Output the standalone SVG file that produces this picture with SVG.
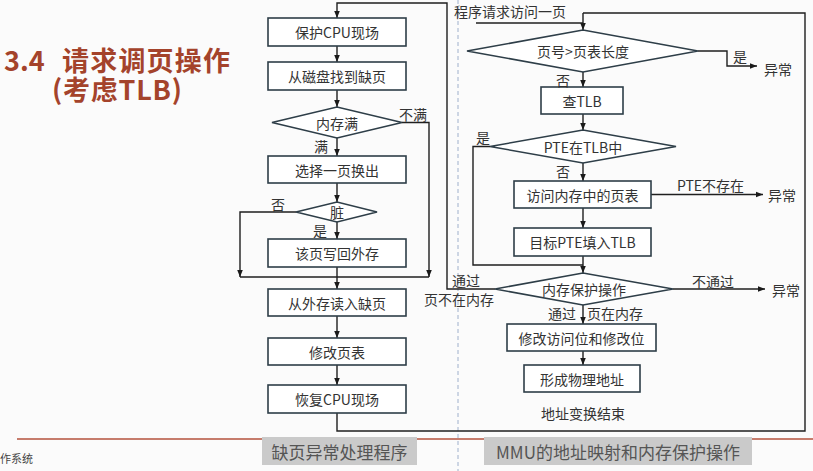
<svg xmlns="http://www.w3.org/2000/svg" width="813" height="471" viewBox="0 0 813 471">
<defs>
<marker id="ah" viewBox="0 0 10 10" refX="10" refY="5" markerWidth="7" markerHeight="7" orient="auto" markerUnits="userSpaceOnUse">
<path d="M0,1 L10,5 L0,9 z" fill="#1a1a1a"/>
</marker>
<style>
.box{fill:#ffffff;stroke:#2e3e48;stroke-width:1.6}
.dia{fill:#ffffff;stroke:#2e3e48;stroke-width:1.6}
.t{font-family:"Noto Sans CJK SC","Noto Sans",sans-serif;font-size:14px;fill:#333;text-anchor:middle;dominant-baseline:central}
.l{font-family:"Noto Sans CJK SC","Noto Sans",sans-serif;font-size:14px;fill:#333;dominant-baseline:central}
.c{fill:none;stroke:#1f1f1f;stroke-width:1.4}
.ca{fill:none;stroke:#1f1f1f;stroke-width:1.4;marker-end:url(#ah)}
.title{font-family:"Noto Sans CJK SC","Noto Sans",sans-serif;font-weight:bold;font-size:27px;fill:#a4432b}
.cap{fill:#cacaca}
.capt{font-family:"Noto Sans CJK SC","Noto Sans",sans-serif;font-size:17px;fill:#555;text-anchor:middle;dominant-baseline:central}
</style>
</defs>
<rect width="813" height="471" fill="#fbfbfb"/>
<line x1="458" y1="0" x2="458" y2="471" stroke="#9fb0cc" stroke-width="1" stroke-dasharray="4,3"/>
<line x1="17" y1="439" x2="813" y2="439" stroke="#b5523c" stroke-width="1.5"/>

<g id="title">
<text class="title" x="4" y="71">3.4</text>
<text class="title" x="62" y="71" textLength="168" lengthAdjust="spacing">请求调页操作</text>
<text class="title" x="52" y="100" textLength="130" lengthAdjust="spacing">(考虑TLB)</text>
</g>

<g id="connectors">
<path class="ca" d="M337,46 V62"/>
<path class="ca" d="M337,90 V107"/>
<path class="ca" d="M337,138 V156"/>
<path class="ca" d="M337,183 V202"/>
<path class="ca" d="M337,222 V239"/>
<path class="ca" d="M337,267 V289"/>
<path class="ca" d="M402,122.5 H429 V277"/>
<path class="ca" d="M296,212 H240 V277"/>
<path class="c" d="M240,277 H429"/>
<path class="ca" d="M337,316 V338"/>
<path class="ca" d="M337,365 V385"/>
<path class="c" d="M337,413 V431 H805 V13 H583"/>
<path class="ca" d="M583,13 V30"/>
<path class="c" d="M476,23 H583"/>
<path class="ca" d="M495,289 H447 V3 H337 V18"/>
<path class="ca" d="M698,51 H727 V66 H757"/>
<path class="ca" d="M583,72 V87"/>
<path class="ca" d="M583,114 V130"/>
<path class="ca" d="M583,163 V181"/>
<path class="ca" d="M651,194.5 H763"/>
<path class="ca" d="M583,208 V228"/>
<path class="ca" d="M583,256 V273"/>
<path class="c" d="M490,146.5 H473 V265 H583"/>
<path class="ca" d="M673,289 H765"/>
<path class="ca" d="M583,305 V324"/>
<path class="ca" d="M583,351 V365"/>
</g>

<g id="n_save"><rect class="box" x="268" y="18" width="138" height="28"/><text class="t" x="337" y="32">保护CPU现场</text></g>
<g id="n_find"><rect class="box" x="268" y="62" width="138" height="28"/><text class="t" x="337" y="76">从磁盘找到缺页</text></g>
<g id="n_full"><polygon class="dia" points="272,122.5 337,107 402,122.5 337,138"/><text class="t" x="337" y="122.5">内存满</text></g>
<g id="n_select"><rect class="box" x="268" y="156" width="138" height="27"/><text class="t" x="337" y="169.5">选择一页换出</text></g>
<g id="n_dirty"><polygon class="dia" points="296,212 337,202 377,212 337,222"/><text class="t" x="337" y="212">脏</text></g>
<g id="n_write"><rect class="box" x="268" y="239" width="138" height="28"/><text class="t" x="337" y="253">该页写回外存</text></g>
<g id="n_read"><rect class="box" x="268" y="289" width="138" height="27"/><text class="t" x="337" y="302.5">从外存读入缺页</text></g>
<g id="n_modify"><rect class="box" x="268" y="338" width="138" height="27"/><text class="t" x="337" y="351.5">修改页表</text></g>
<g id="n_restore"><rect class="box" x="268" y="385" width="138" height="28"/><text class="t" x="337" y="399">恢复CPU现场</text></g>

<g id="labels_left">
<text class="l" x="314" y="146">满</text>
<text class="l" x="399" y="114">不满</text>
<text class="l" x="271" y="204">否</text>
<text class="l" x="313" y="230">是</text>
</g>

<g id="n_request"><text class="l" x="454" y="11">程序请求访问一页</text></g>
<g id="n_pagenum"><polygon class="dia" points="467,51 583,30 698,51 583,72"/><text class="t" x="583" y="51">页号&gt;页表长度</text></g>
<g id="n_tlb"><rect class="box" x="541" y="87" width="82" height="27"/><text class="t" x="582" y="100.5">查TLB</text></g>
<g id="n_pteintlb"><polygon class="dia" points="490,146.5 583,130 676,146.5 583,163"/><text class="t" x="583" y="146.5">PTE在TLB中</text></g>
<g id="n_visit"><rect class="box" x="514" y="181" width="137" height="27"/><text class="t" x="582.5" y="194.5">访问内存中的页表</text></g>
<g id="n_fill"><rect class="box" x="514" y="228" width="137" height="28"/><text class="t" x="582.5" y="242">目标PTE填入TLB</text></g>
<g id="n_protect"><polygon class="dia" points="495,289 583,273 673,289 583,305"/><text class="t" x="584" y="289">内存保护操作</text></g>
<g id="n_update"><rect class="box" x="507" y="324" width="149" height="27"/><text class="t" x="581.5" y="337.5">修改访问位和修改位</text></g>
<g id="n_phys"><rect class="box" x="524" y="365" width="116" height="27"/><text class="t" x="582" y="378.5">形成物理地址</text></g>
<g id="n_end"><text class="t" x="583" y="413">地址变换结束</text></g>

<g id="labels_right">
<text class="l" x="733" y="56">是</text>
<text class="l" x="764" y="69">异常</text>
<text class="l" x="556" y="80">否</text>
<text class="l" x="476" y="137">是</text>
<text class="l" x="556" y="171">否</text>
<text class="l" x="677" y="185">PTE不存在</text>
<text class="l" x="768" y="195">异常</text>
<text class="l" x="692" y="281">不通过</text>
<text class="l" x="772" y="290">异常</text>
<text class="l" x="452" y="280">通过</text>
<text class="l" x="424" y="299">页不在内存</text>
<text class="l" x="548" y="313">通过</text>
<text class="l" x="587" y="313">页在内存</text>
</g>

<g id="captions">
<rect class="cap" x="262" y="437" width="155" height="28"/>
<text class="capt" x="339.5" y="451">缺页异常处理程序</text>
<rect class="cap" x="484" y="437" width="268" height="28"/>
<text class="capt" x="618" y="451">MMU的地址映射和内存保护操作</text>
</g>
<text x="0" y="463" font-family="Noto Sans CJK SC, sans-serif" font-size="11" fill="#444">作系统</text>
</svg>
